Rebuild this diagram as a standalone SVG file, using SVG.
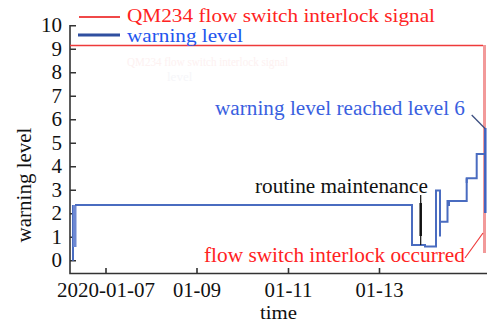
<svg xmlns="http://www.w3.org/2000/svg" width="487" height="323" viewBox="0 0 487 323">
<style>
  text { font-family: "Liberation Serif", "Times New Roman", serif; }
  .tick { font-size: 21px; fill: #111; }
  .xtick { font-size: 20px; fill: #111; }
  .axis { stroke: #333; stroke-width: 1.6; fill: none; }
  .data { stroke: #4a6cc0; stroke-width: 2; fill: none; }
  .sig { stroke: #ee3a3a; stroke-width: 1.5; fill: none; }
</style>
<rect width="487" height="323" fill="#fff"/>
<g id="ghost">
  <text x="127" y="66" font-size="13" fill="#fdf1f1" textLength="161" lengthAdjust="spacingAndGlyphs">QM234 flow switch interlock signal</text>
  <text x="167" y="81" font-size="13" fill="#f6f6f9">level</text>
</g>
<g id="axes">
  <path class="axis" d="M70,25 V273.5 H487"/>
  <path class="axis" d="M70,25.7 H76 M70,49.2 H76 M70,72.7 H76 M70,96.2 H76 M70,119.7 H76 M70,143.2 H76 M70,166.7 H76 M70,190.2 H76 M70,213.7 H76 M70,237.2 H76 M70,260.7 H76"/>
  <path class="axis" d="M106,273.5 V268 M197,273.5 V268 M288.5,273.5 V268 M379.5,273.5 V268"/>
  <g class="tick" text-anchor="end">
    <text x="62" y="32">10</text>
    <text x="62" y="55.5">9</text>
    <text x="62" y="79">8</text>
    <text x="62" y="102.5">7</text>
    <text x="62" y="126">6</text>
    <text x="62" y="149.5">5</text>
    <text x="62" y="173">4</text>
    <text x="62" y="196.5">3</text>
    <text x="62" y="220">2</text>
    <text x="62" y="243.5">1</text>
    <text x="62" y="267">0</text>
  </g>
  <g class="xtick" text-anchor="middle">
    <text x="106" y="297" textLength="98" lengthAdjust="spacingAndGlyphs">2020-01-07</text>
    <text x="197" y="297" textLength="48" lengthAdjust="spacingAndGlyphs">01-09</text>
    <text x="288.5" y="297" textLength="48" lengthAdjust="spacingAndGlyphs">01-11</text>
    <text x="379.5" y="297" textLength="48" lengthAdjust="spacingAndGlyphs">01-13</text>
  </g>
  <text x="278.5" y="319" font-size="19" fill="#111" text-anchor="middle" textLength="37" lengthAdjust="spacingAndGlyphs">time</text>
  <text class="tick" transform="translate(31,185) rotate(-90)" text-anchor="middle">warning level</text>
</g>
<g id="signal">
  <path class="sig" d="M70,45.5 H483"/>
  <path d="M484.5,45 V253" stroke="#f29a9a" stroke-width="3" fill="none"/>
</g>
<g id="warning">
  <path class="data" d="M73,260.7 V205"/>
  <rect x="73" y="205" width="3.5" height="42" fill="#6d88d2"/>
  <path class="data" d="M75,205 H412 V245 H425 V246.5 H436 V190.5 H440 V236.5 V221.7 H447.5 V201 H466.7 V178.3 H476.7 V154 H485.5"/>
  <path class="data" d="M466.7,178.3 V183 M449,201 V206"/>
  <path d="M485.3,128 V213" stroke="#3f62c0" stroke-width="2.5" fill="none"/>
</g>
<g id="maintenance">
  <path d="M420.7,195 V245" stroke="#111" stroke-width="1.2" fill="none"/>
  <path d="M420.7,203 V236" stroke="#111" stroke-width="2.5" fill="none"/>
</g>
<g id="connectors">
  <path d="M471.7,115 L485,128.5" stroke="#3c4f80" stroke-width="1.3" fill="none"/>
  <path d="M465,258 L483,233" stroke="#ee3a3a" stroke-width="1.2" fill="none"/>
</g>
<g id="legend">
  <path d="M79,17 H120" stroke="#f04848" stroke-width="2"/>
  <text x="127" y="21.5" font-size="19" fill="#ff2222" textLength="308" lengthAdjust="spacingAndGlyphs">QM234 flow switch interlock signal</text>
  <path d="M78,35 H120" stroke="#2f4fa0" stroke-width="3"/>
  <text x="127" y="41.5" font-size="19" fill="#2255ee" textLength="116" lengthAdjust="spacingAndGlyphs">warning level</text>
</g>
<g id="annotations">
  <text x="215" y="115" font-size="20" fill="#3a5fe0" textLength="250" lengthAdjust="spacingAndGlyphs">warning level reached level 6</text>
  <text x="255" y="193" font-size="20" fill="#111" textLength="173" lengthAdjust="spacingAndGlyphs">routine maintenance</text>
  <text x="204" y="262" font-size="21" fill="#ff2222" textLength="261" lengthAdjust="spacingAndGlyphs">flow switch interlock occurred</text>
</g>
</svg>
